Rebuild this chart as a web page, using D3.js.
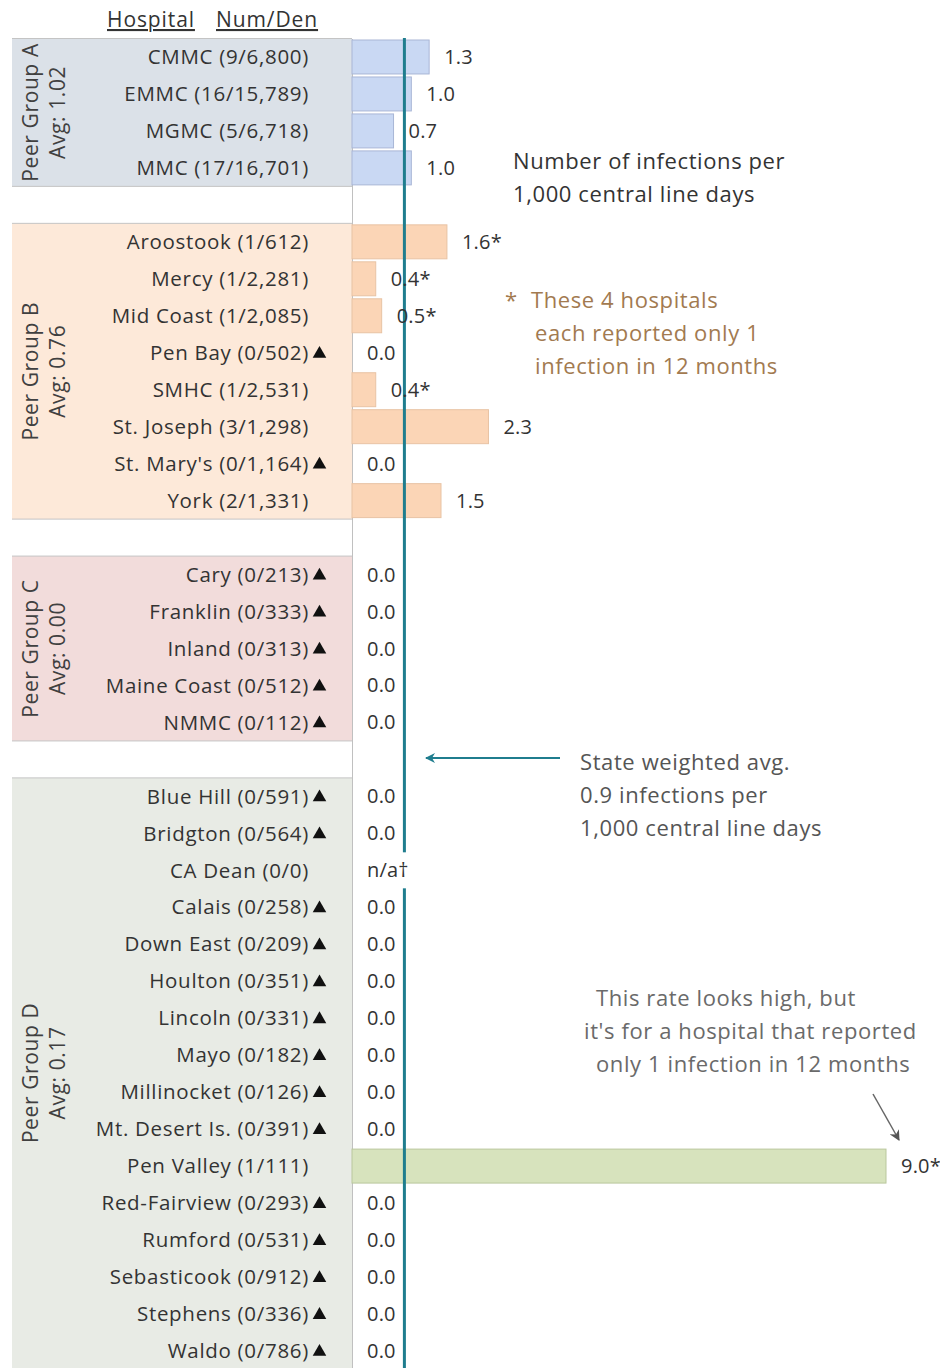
<!DOCTYPE html>
<html>
<head>
<meta charset="utf-8">
<script src="https://cdn.jsdelivr.net/npm/d3@7"></script>
<style>
body { margin: 0; background: #fff; }
text { font-family: "Open Sans", Lato, sans-serif; }
</style>
</head>
<body>
<script>
// hospitals, in chart order, with their peer group
var hospitals = ["CMMC", "EMMC", "MGMC", "MMC",
	"Aroostook", "Mercy", "Mid Coast", "Pen Bay", "SMHC", "St. Joseph", "St. Mary's", "York",
	"Cary", "Franklin", "Inland", "Maine Coast", "NMMC",
	"Blue Hill", "Bridgton", "CA Dean", "Calais", "Down East", "Houlton", "Lincoln", "Mayo",
	"Millinocket", "Mt. Desert Is.", "Pen Valley", "Red-Fairview", "Rumford", "Sebasticook",
	"Stephens", "Waldo"];
var peerGroups = ["A", "A", "A", "A",
	"B", "B", "B", "B", "B", "B", "B", "B",
	"C", "C", "C", "C", "C",
	"D", "D", "D", "D", "D", "D", "D", "D", "D", "D", "D", "D", "D", "D", "D", "D"];
var numerators = [9, 16, 5, 17,
	1, 1, 1, 0, 1, 3, 0, 2,
	0, 0, 0, 0, 0,
	0, 0, 0, 0, 0, 0, 0, 0, 0, 0, 1, 0, 0, 0, 0, 0];
var denominators = [6800, 15789, 6718, 16701,
	612, 2281, 2085, 502, 2531, 1298, 1164, 1331,
	213, 333, 313, 512, 112,
	591, 564, 0, 258, 209, 351, 331, 182, 126, 391, 111, 293, 531, 912, 336, 786];
// infections per 1,000 central line days (null = n/a)
var rates = [1.3, 1.0, 0.7, 1.0,
	1.6, 0.4, 0.5, 0.0, 0.4, 2.3, 0.0, 1.5,
	0.0, 0.0, 0.0, 0.0, 0.0,
	0.0, 0.0, null, 0.0, 0.0, 0.0, 0.0, 0.0, 0.0, 0.0, 9.0, 0.0, 0.0, 0.0, 0.0, 0.0];

var groupNames = ["A", "B", "C", "D"];
var groupAvgs = ["1.02", "0.76", "0.00", "0.17"];
var stateAvg = 0.9;

var groupFill = {A: "#dbe1e8", B: "#fde9d9", C: "#f2dcdb", D: "#e8ebe5"};
var barFill = {A: "#c9d8f3", B: "#fbd5b6", C: "#f2c4c3", D: "#d7e3bd"};
var barStroke = {A: "#a9b6d6", B: "#e8c3a4", C: "#d9a8a7", D: "#b9c79d"};
var teal = "#1f7d8e";

// one slot per hospital, with an empty slot between peer groups
var slots = [];
groupNames.forEach(function(g, gi) {
	peerGroups.forEach(function(p, i) { if (p === g) slots.push("h" + i); });
	if (gi < groupNames.length - 1) slots.push("gap" + g);
});

var fmt = d3.format(",");

var svg = d3.select("body").append("svg")
	.attr("width", 940).attr("height", 1368);

var x = d3.scaleLinear().domain([0, 9]).range([352, 886]);
var y = d3.scaleBand().domain(slots).range([38.5, 38.5 + slots.length * 36.97]);
var bw = y.bandwidth();

// peer group backgrounds
groupNames.forEach(function(g, gi) {
	var keys = slots.filter(function(s) { return s[0] === "h" && peerGroups[+s.slice(1)] === g; });
	var top = y(keys[0]), bottom = y(keys[keys.length - 1]) + bw;
	svg.append("rect")
		.attr("x", 12).attr("y", top)
		.attr("width", x(0) - 12).attr("height", bottom - top)
		.style("fill", groupFill[g]);
	svg.append("line")
		.attr("x1", 12).attr("x2", x(0))
		.attr("y1", top).attr("y2", top)
		.style("stroke", "#c4c4c4");
	svg.append("line")
		.attr("x1", 12).attr("x2", x(0))
		.attr("y1", bottom).attr("y2", bottom)
		.style("stroke", "#c4c4c4");

	var cy = (top + Math.min(bottom, 1368)) / 2;
	svg.append("text")
		.attr("transform", "translate(38," + cy + ") rotate(-90)")
		.attr("text-anchor", "middle")
		.style("font-size", "21px").style("letter-spacing", "0.6px").style("fill", "#404040")
		.text("Peer Group " + g);
	svg.append("text")
		.attr("transform", "translate(65," + cy + ") rotate(-90)")
		.attr("text-anchor", "middle")
		.style("font-size", "21px").style("letter-spacing", "0.6px").style("fill", "#404040")
		.text("Avg:  " + groupAvgs[gi]);
});

// zero line
svg.append("g")
	.attr("transform", "translate(" + x(0) + ",0)")
	.call(d3.axisLeft(y).tickSize(0).tickFormat(""))
	.call(function(g) { g.select(".domain").style("stroke", "#c0c0c0"); });

var rows = slots.filter(function(s) { return s[0] === "h"; })
	.map(function(s) { return +s.slice(1); });

// bars
svg.selectAll(".bar")
	.data(rows.filter(function(i) { return rates[i] > 0; }))
	.enter().append("rect")
	.attr("class", "bar")
	.attr("x", x(0))
	.attr("y", function(i) { return y("h" + i) + 1.5; })
	.attr("width", function(i) { return x(rates[i]) - x(0); })
	.attr("height", bw - 3)
	.style("fill", function(i) { return barFill[peerGroups[i]]; })
	.style("stroke", function(i) { return barStroke[peerGroups[i]]; });

// state average line
svg.append("line")
	.attr("x1", x(stateAvg) - 1).attr("x2", x(stateAvg) - 1)
	.attr("y1", 38).attr("y2", 1368)
	.style("stroke", teal).style("stroke-width", 3);

// header
svg.append("text").attr("x", 107).attr("y", 27)
	.style("font-size", "21px").style("letter-spacing", "0.9px").style("fill", "#333")
	.style("text-decoration", "underline").text("Hospital");
svg.append("text").attr("x", 216).attr("y", 27)
	.style("font-size", "21px").style("letter-spacing", "0.9px").style("fill", "#333")
	.style("text-decoration", "underline").text("Num/Den");

// hospital labels
svg.selectAll(".hosp")
	.data(rows)
	.enter().append("text")
	.attr("class", "hosp")
	.attr("x", 309)
	.attr("y", function(i) { return y("h" + i) + bw / 2; })
	.attr("dy", "0.35em")
	.attr("text-anchor", "end")
	.style("font-size", "20.5px").style("letter-spacing", "0.7px").style("fill", "#333")
	.text(function(i) {
		return hospitals[i] + " (" + numerators[i] + "/" + fmt(denominators[i]) + ")";
	});

// no-infection markers
svg.selectAll(".tri")
	.data(rows.filter(function(i) { return numerators[i] === 0 && denominators[i] > 0; }))
	.enter().append("path")
	.attr("class", "tri")
	.attr("transform", function(i) { return "translate(319.5," + (y("h" + i) + bw / 2 + 1) + ")"; })
	.attr("d", d3.symbol(d3.symbolTriangle, 80))
	.style("fill", "#111");

// value labels
rows.forEach(function(i) {
	var cy = y("h" + i) + bw / 2;
	var lx = x(rates[i] || 0) + 15;
	if (rates[i] === null) {
		svg.append("rect")
			.attr("x", lx - 3).attr("y", cy - 18)
			.attr("width", 52).attr("height", 36)
			.style("fill", "#fff");
	}
	svg.append("text")
		.attr("x", lx).attr("y", cy).attr("dy", "0.35em")
		.style("font-size", "20px").style("letter-spacing", "0.2px").style("fill", "#333")
		.text(rates[i] === null ? "n/a\u2020"
			: rates[i].toFixed(1) + (numerators[i] === 1 ? "*" : ""));
});

// annotations
function lines(arr, x0, y0, color) {
	arr.forEach(function(t, k) {
		svg.append("text")
			.attr("x", x0).attr("y", y0 + k * 33)
			.style("font-size", "22px").style("letter-spacing", "0.6px").style("fill", color)
			.text(t);
	});
}

lines(["Number of infections per", "1,000 central line days"], 513, 169, "#333");

svg.append("text").attr("x", 505).attr("y", 308)
	.style("font-size", "22px").style("fill", "#a27a50").text("*");
lines(["These 4 hospitals"], 531, 308, "#a27a50");
lines(["each reported only 1", "infection in 12 months"], 535, 341, "#a27a50");

lines(["State weighted avg.", "0.9 infections per", "1,000 central line days"], 580, 770, "#555");
lines(["This rate looks high, but"], 596, 1006, "#6a6a6a");
lines(["it's for a hospital that reported"], 584, 1039, "#6a6a6a");
lines(["only 1 infection in 12 months"], 596, 1072, "#6a6a6a");

var defs = svg.append("defs");
defs.append("marker")
	.attr("id", "tealHead")
	.attr("viewBox", "0 0 10 10")
	.attr("refX", 9).attr("refY", 5)
	.attr("markerWidth", 5).attr("markerHeight", 5)
	.attr("orient", "auto")
	.append("path").attr("d", "M10,5 L0,0 L3,5 L0,10 Z")
	.style("fill", teal);
defs.append("marker")
	.attr("id", "grayHead")
	.attr("viewBox", "0 0 10 10")
	.attr("refX", 9).attr("refY", 5)
	.attr("markerWidth", 7).attr("markerHeight", 7)
	.attr("orient", "auto")
	.append("path").attr("d", "M0,0 L10,5 L0,10 L3,5 Z")
	.style("fill", "#555");

svg.append("line")
	.attr("x1", 560).attr("y1", 758)
	.attr("x2", 426).attr("y2", 758)
	.attr("marker-end", "url(#tealHead)")
	.style("stroke", teal).style("stroke-width", 2);

svg.append("line")
	.attr("x1", 873).attr("y1", 1094)
	.attr("x2", 899).attr("y2", 1140)
	.attr("marker-end", "url(#grayHead)")
	.style("stroke", "#666").style("stroke-width", 1.5);
</script>
</body>
</html>
